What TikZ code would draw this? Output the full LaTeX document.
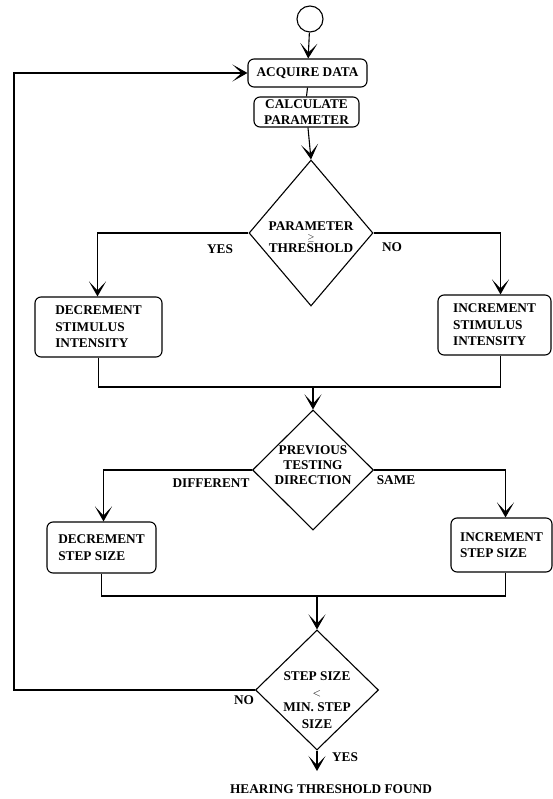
\documentclass[tikz,border=0pt]{standalone}
\usepackage{fontspec}
\setmainfont{Liberation Serif}
\usetikzlibrary{shapes.geometric,arrows.meta,positioning,calc}

% text of a decision, shifted inside its diamond
\newcommand{\dtext}[2]{\smash{\raisebox{#1}{\begin{tabular}{@{}c@{}}#2\end{tabular}}}}

\tikzset{
  box/.style={draw, rounded corners=6pt, line width=1.1pt, align=left, inner sep=0pt},
  decision/.style={draw, diamond, line width=1.1pt, inner sep=0pt},
  flow/.style={line width=1.1pt},
  arr/.style={line width=1.1pt, -{Stealth[length=15pt,width=17pt,inset=9pt]}},
  lbl/.style={inner sep=0pt}
}

\begin{document}
\begin{tikzpicture}[x=1pt,y=-1pt,font=\bfseries\fontsize{13.3}{16.5}\selectfont]
\useasboundingbox (0,0) rectangle (552,799);

% start and first steps
\node[draw,circle,line width=1.1pt,minimum size=26pt,inner sep=0pt] (start) at (310,19) {};
\node[box,align=center,minimum width=119pt,minimum height=28pt] (acq) at (307.5,73) {ACQUIRE DATA};
\node[box,align=center,minimum width=105pt,minimum height=30pt] (calc) at (306.5,112) {CALCULATE\\PARAMETER};
\draw[arr] (start) -- (acq);
\draw[flow] (acq.south) -- (calc.north);

% first decision
\node[decision,minimum width=124pt,minimum height=146pt] (d1) at (311,233)
  {\dtext{-9pt}{PARAMETER\\[-7pt]{\fontsize{9}{9}\selectfont$\geq$}\\[-4.5pt]THRESHOLD}};
\draw[arr] (calc) -- (d1.north);
\node[box,minimum width=127pt,minimum height=60pt] (decS) at (98.5,327) {DECREMENT\\STIMULUS\\INTENSITY};
\node[box,minimum width=113pt,minimum height=60pt] (incS) at (494.5,325) {INCREMENT\\STIMULUS\\INTENSITY};
\draw[arr] (d1.west) -| ([xshift=-1pt]decS.north);
\draw[arr] (d1.east) -| ([xshift=6pt]incS.north);
\node[lbl] (yes1) at (220,249) {YES};
\node[lbl] (no1) at (392,247) {NO};

% join and second decision
\coordinate (m1) at (313,387);
\draw[flow] (decS.south) |- (m1) -| ([xshift=6pt]incS.south);
\node[decision,minimum width=121pt,minimum height=120pt] (d2) at (313,470)
  {\dtext{0pt}{PREVIOUS\\[-1.5pt]TESTING\\[-1.5pt]DIRECTION}};
\draw[arr] (m1) -- (d2.north);
\node[box,minimum width=109pt,minimum height=51pt] (decT) at (101.5,547.5) {DECREMENT\\STEP SIZE};
\node[box,minimum width=101pt,minimum height=54pt] (incT) at (501.5,545) {INCREMENT\\STEP SIZE};
\draw[arr] (d2.west) -| ([xshift=2pt]decT.north);
\draw[arr] (d2.east) -| ([xshift=4pt]incT.north);
\node[lbl] (diff) at (211,483) {DIFFERENT};
\node[lbl] (same) at (396,480) {SAME};

% join and last decision
\coordinate (m2) at (317,596);
\draw[flow] (decT.south) |- (m2) -| ([xshift=4pt]incT.south);
\node[decision,minimum width=123pt,minimum height=120pt] (d3) at (317,690)
  {\dtext{-15pt}{STEP SIZE\\[-1pt]{\fontsize{11}{11}\selectfont$<$}\\[-1pt]MIN. STEP\\SIZE}};
\draw[arr] (m2) -- (d3.north);
\node[lbl] (no3) at (244,700) {NO};
\node[lbl] (yes3) at (345,757) {YES};

% loop back and exit
\coordinate (back) at (14,400);
\draw[arr] (d3.west) -| (back) |- (acq.west);
\coordinate (fnd) at (317,771);
\draw[arr] (d3.south) -- (fnd);
\node[lbl] (found) at (331,789) {HEARING THRESHOLD FOUND};
\end{tikzpicture}
\end{document}
